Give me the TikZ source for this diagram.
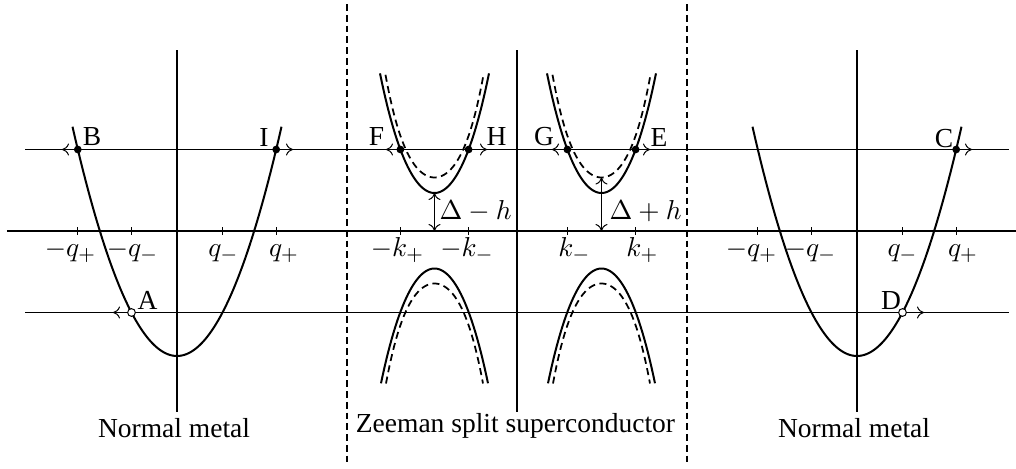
\documentclass[tikz,border=0pt]{standalone}
\usepackage[no-math]{fontspec}
\setmainfont{Liberation Serif}
\usetikzlibrary{arrows.meta}
\begin{document}
\begin{tikzpicture}[x=0.4pt,y=-0.4pt,
  declare function={fs(\t)=3.55*\t*\t+0.0161*\t*\t*\t*\t; fd(\t)=2.946*\t*\t+0.0555*\t*\t*\t*\t;},
  thinline/.style={line width=0.4pt},
  mainaxis/.style={line width=0.8pt},
  vaxis/.style={line width=0.6pt},
  sepline/.style={line width=0.6pt, dash pattern=on 2.7pt off 1.6pt},
  band/.style={line width=0.8pt},
  dband/.style={line width=0.7pt, dash pattern=on 2.8pt off 1.8pt},
  tickmark/.style={line width=0.4pt},
  lab/.style={font=\fontsize{11}{13}\selectfont, inner sep=0pt},
  fdot/.style={circle, fill=black, inner sep=0pt, minimum size=3.1pt},
  odot/.style={circle, draw=black, fill=white, line width=0.4pt, inner sep=0pt, minimum size=3.1pt},
  dirarrow/.style={-{To[length=2.8pt,width=4.8pt]}, line width=0.4pt},
  gaparrow/.style={{To[length=2.8pt,width=4.8pt]}-{To[length=2.8pt,width=4.8pt]}, line width=0.4pt}
]
\useasboundingbox (0,0) rectangle (1016,468);

% horizontal lines
\coordinate (UL) at (25,149.5);  \coordinate (UR) at (1009,149.5);
\coordinate (LL) at (25,312.5);  \coordinate (LR) at (1009,312.5);
\coordinate (AL) at (7,231);     \coordinate (AR) at (1016,231);
\draw[thinline] (UL) -- (UR);
\draw[thinline] (LL) -- (LR);
\draw[mainaxis] (AL) -- (AR);

% vertical axes
\foreach \n/\xx in {v1/177, v2/517, v3/857} {
  \coordinate (\n t) at (\xx,50); \coordinate (\n b) at (\xx,412);
  \draw[vaxis] (\n t) -- (\n b);
}
% separators
\foreach \n/\xx in {s1/347, s2/687} {
  \coordinate (\n t) at (\xx,4); \coordinate (\n b) at (\xx,466);
  \draw[sepline] (\n t) -- (\n b);
}

% ticks
\foreach \xx in {77.8,131.5,222.5,276.2, 400.4,468.6,567.4,635.6, 757.8,811.5,902.5,956.2} {
  \draw[tickmark] (\xx,227) -- (\xx,235);
}

% tick labels
\node[lab, anchor=base] (lq1) at (70.5,256) {$-q_+$};
\node[lab, anchor=base] (lq2) at (132.5,256) {$-q_-$};
\node[lab, anchor=base] (lq3) at (223.5,256) {$q_-$};
\node[lab, anchor=base] (lq4) at (284,256) {$q_+$};
\node[lab, anchor=base] (lk1) at (397.5,256) {$-k_+$};
\node[lab, anchor=base] (lk2) at (467,256) {$-k_-$};
\node[lab, anchor=base] (lk3) at (574.5,256) {$k_-$};
\node[lab, anchor=base] (lk4) at (642.5,256) {$k_+$};
\node[lab, anchor=base] (rq1) at (751.5,256) {$-q_+$};
\node[lab, anchor=base] (rq2) at (810.5,256) {$-q_-$};
\node[lab, anchor=base] (rq3) at (902.5,256) {$q_-$};
\node[lab, anchor=base] (rq4) at (963,256) {$q_+$};

% normal metal parabolas
\draw[band] plot[domain=-104.5:104.5, samples=80] ({177+\x},{356-0.021*\x*\x});
\draw[band] plot[domain=-104.5:104.5, samples=80] ({857+\x},{356-0.021*\x*\x});

% superconductor bands
\foreach \cx in {434.5,601.5} {
  \draw[band] plot[domain=-5.45:5.45, samples=60] ({\cx+10*\x},{193-fs(\x)});
  \draw[dband] plot[domain=-4.9:4.9, samples=60] ({\cx+10*\x},{177.5-fd(\x)});
  \draw[band] plot[domain=-5.35:5.35, samples=60] ({\cx+10*\x},{268.5+fs(\x)});
  \draw[dband] plot[domain=-4.85:4.85, samples=60] ({\cx+10*\x},{283.5+fd(\x)});
}

% gap arrows
\coordinate (gL0) at (434.5,231); \coordinate (gL1) at (434.5,193);
\coordinate (gR0) at (601.5,231); \coordinate (gR1) at (601.5,177.5);
\draw[gaparrow] (gL0) -- (gL1);
\draw[gaparrow] (gR0) -- (gR1);
\node[lab, anchor=base west] (dmh) at (439,219.5) {$\Delta-h$};
\node[lab, anchor=base west] (dph) at (609,219.5) {$\Delta+h$};

% arrow end points
\coordinate (Bt) at (62,149.5);
\coordinate (It) at (293,149.5);
\coordinate (At) at (113,312.5);
\coordinate (Ft) at (386,149.5);
\coordinate (Ht) at (487,149.5);
\coordinate (Gt) at (552,149.5);
\coordinate (Et) at (650,149.5);
\coordinate (Ct) at (972,149.5);
\coordinate (Dt) at (924,312.5);

% points
\node[fdot] (B) at (77.8,149.5) {};
\node[fdot] (I) at (276.2,149.5) {};
\node[odot] (A) at (131.5,312.5) {};
\node[fdot] (F) at (400.4,149.5) {};
\node[fdot] (H) at (468.6,149.5) {};
\node[fdot] (G) at (567.4,149.5) {};
\node[fdot] (E) at (635.6,149.5) {};
\node[fdot] (C) at (956.2,149.5) {};
\node[odot] (D) at (902.5,312.5) {};

\draw[dirarrow] (B) -- (Bt);
\draw[dirarrow] (I) -- (It);
\draw[dirarrow] (A) -- (At);
\draw[dirarrow] (F) -- (Ft);
\draw[dirarrow] (H) -- (Ht);
\draw[dirarrow] (G) -- (Gt);
\draw[dirarrow] (E) -- (Et);
\draw[dirarrow] (C) -- (Ct);
\draw[dirarrow] (D) -- (Dt);

% point labels
\node[lab] (lB) at (92,137) {B};
\node[lab] (lI) at (264,137) {I};
\node[lab] (lA) at (147.5,300.5) {A};
\node[lab] (lF) at (376.5,136.5) {F};
\node[lab] (lH) at (496.5,136.5) {H};
\node[lab] (lG) at (544,137) {G};
\node[lab] (lE) at (659,137) {E};
\node[lab] (lC) at (944,138.5) {C};
\node[lab] (lD) at (891,301) {D};

% region labels
\node[lab, anchor=base] (nm1) at (174,437) {Normal metal};
\node[lab, anchor=base] (zs) at (515.5,432) {Zeeman split superconductor};
\node[lab, anchor=base] (nm2) at (854,437) {Normal metal};
\end{tikzpicture}
\end{document}
